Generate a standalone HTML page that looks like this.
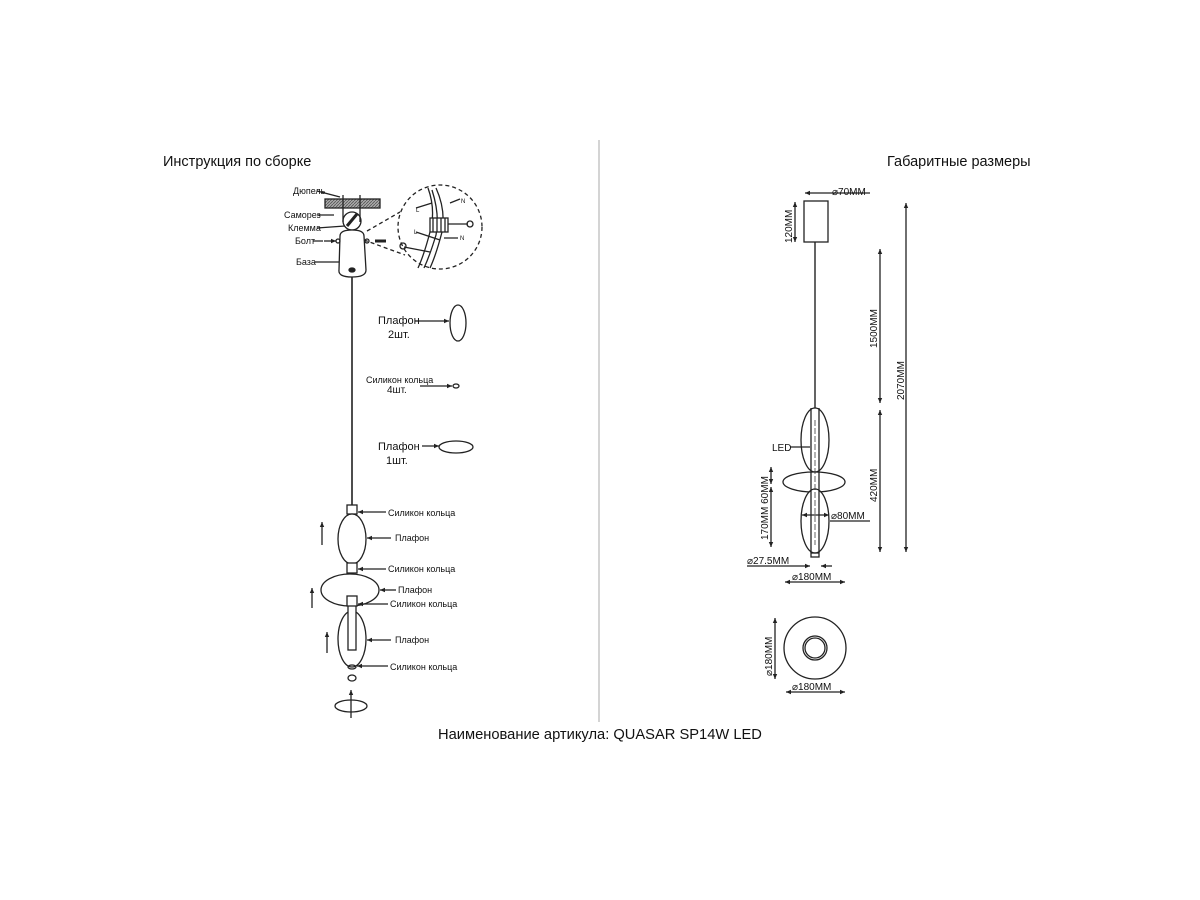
<!DOCTYPE html>
<html><head><meta charset="utf-8"><style>
html,body{margin:0;padding:0;background:#fff;}
svg{display:block;font-family:"Liberation Sans",sans-serif;}
</style></head><body>
<svg width="1200" height="900" viewBox="0 0 1200 900" xmlns="http://www.w3.org/2000/svg">
<defs>
<pattern id="h" width="3" height="3" patternUnits="userSpaceOnUse"><rect width="3" height="3" fill="#aaa"/><path d="M0 3L3 0" stroke="#555" stroke-width="0.8"/></pattern>
<marker id="a" markerWidth="6" markerHeight="6" refX="5" refY="3" orient="auto" markerUnits="userSpaceOnUse"><path d="M0,0.8 L5,3 L0,5.2 z" fill="#222"/></marker>
<marker id="as" markerWidth="6" markerHeight="6" refX="1" refY="3" orient="auto" markerUnits="userSpaceOnUse"><path d="M6,0.8 L1,3 L6,5.2 z" fill="#222"/></marker>
</defs>
<g fill="#111">
<text x="163" y="166" font-size="14.5">Инструкция по сборке</text>
<text x="887" y="166" font-size="14.5">Габаритные размеры</text>
<text x="438" y="739" font-size="14.7">Наименование артикула: QUASAR SP14W LED</text>
</g>
<line x1="599" y1="140" x2="599" y2="722" stroke="#aaa" stroke-width="1"/>

<g stroke="#222" fill="none" stroke-width="1.3">
<rect x="325" y="199" width="55" height="9" fill="url(#h)"/>
<line x1="343" y1="195" x2="343" y2="222"/><line x1="360" y1="195" x2="360" y2="222"/>
<ellipse cx="352" cy="221" rx="9" ry="9"/>
<path d="M347 226 L357 214" stroke-width="3"/>
<path d="M340 236 Q340 230 352 230 Q364 230 364 236 L366 270 Q366 277 352 277 Q338 277 339 270 Z" fill="#fff"/>
<ellipse cx="352" cy="270" rx="3" ry="2" fill="#222"/>
<circle cx="338" cy="241" r="2"/><circle cx="367" cy="241" r="2"/>
<line x1="324" y1="241" x2="336" y2="241" marker-end="url(#a)"/>
<line x1="375" y1="241" x2="386" y2="241" stroke-width="3"/>
<line x1="352" y1="277" x2="352" y2="506" stroke-width="1.6"/>
<circle cx="440" cy="227" r="42" stroke-dasharray="4,3"/>
<path d="M367 231 L400 212 M364 240 L405 255" stroke-dasharray="4,3"/>
<path d="M428 188 Q436 210 430 232 Q424 255 418 268 M436 188 Q446 210 442 232 Q436 255 430 268 M432 190 Q440 215 436 235 Q430 255 424 268"/>
<rect x="430" y="218" width="18" height="14" fill="#fff"/>
<path d="M433 218v14M437 218v14M441 218v14M445 218v14"/>
<path d="M416 208L432 203M450 203L460 199M448 224L468 224M416 232L440 240M444 238L458 238M404 247L430 252"/>
<circle cx="470" cy="224" r="3"/><circle cx="403" cy="246" r="3"/>
<ellipse cx="458" cy="323" rx="8" ry="18"/>
<line x1="415" y1="321" x2="449" y2="321" marker-end="url(#a)"/>
<ellipse cx="456" cy="386" rx="3" ry="2"/>
<line x1="420" y1="386" x2="452" y2="386" marker-end="url(#a)"/>
<ellipse cx="456" cy="447" rx="17" ry="6"/>
<line x1="422" y1="446" x2="439" y2="446" marker-end="url(#a)"/>
<rect x="347" y="505" width="10" height="9" fill="#fff"/>
<ellipse cx="352" cy="539" rx="14" ry="25" fill="#fff"/>
<rect x="347" y="563" width="10" height="10" fill="#fff"/>
<ellipse cx="350" cy="590" rx="29" ry="16" fill="#fff"/>
<ellipse cx="352" cy="639" rx="14" ry="28" fill="#fff"/>
<rect x="348" y="598" width="8" height="52" fill="#fff"/>
<rect x="347" y="596" width="10" height="10" fill="#fff"/>
<ellipse cx="352" cy="667" rx="4" ry="2"/>
<ellipse cx="352" cy="678" rx="4" ry="3"/>
<line x1="322" y1="545" x2="322" y2="522" marker-end="url(#a)"/>
<line x1="312" y1="608" x2="312" y2="588" marker-end="url(#a)"/>
<line x1="327" y1="653" x2="327" y2="632" marker-end="url(#a)"/>
<line x1="351" y1="718" x2="351" y2="690" marker-end="url(#a)"/>
<ellipse cx="351" cy="706" rx="16" ry="6"/>
<line x1="386" y1="512" x2="358" y2="512" marker-end="url(#a)"/>
<line x1="391" y1="538" x2="367" y2="538" marker-end="url(#a)"/>
<line x1="386" y1="569" x2="358" y2="569" marker-end="url(#a)"/>
<line x1="396" y1="590" x2="380" y2="590" marker-end="url(#a)"/>
<line x1="388" y1="604" x2="358" y2="604" marker-end="url(#a)"/>
<line x1="391" y1="640" x2="367" y2="640" marker-end="url(#a)"/>
<line x1="388" y1="666" x2="357" y2="666" marker-end="url(#a)"/>
<path d="M317 191 L340 197 M317 215 L334 215 M317 228 L345 226 M313 241 L323 241 M315 262 L339 262"/>
</g>
<g font-size="9" fill="#111">
<text x="293" y="194">Дюпель</text>
<text x="284" y="218">Саморез</text>
<text x="288" y="231">Клемма</text>
<text x="295" y="244">Болт</text>
<text x="296" y="265">База</text>
<text x="378" y="324" font-size="11">Плафон</text>
<text x="388" y="338" font-size="11">2шт.</text>
<text x="366" y="383">Силикон кольца</text>
<text x="387" y="393" font-size="10">4шт.</text>
<text x="378" y="450" font-size="11">Плафон</text>
<text x="386" y="464" font-size="11">1шт.</text>
<text x="388" y="516">Силикон кольца</text>
<text x="395" y="541">Плафон</text>
<text x="388" y="572">Силикон кольца</text>
<text x="398" y="593">Плафон</text>
<text x="390" y="607">Силикон кольца</text>
<text x="395" y="643">Плафон</text>
<text x="390" y="670">Силикон кольца</text>
<text x="416" y="212" font-size="6">L</text><text x="461" y="203" font-size="6">N</text>
<text x="414" y="234" font-size="6">L</text><text x="460" y="240" font-size="6">N</text>
</g>

<g stroke="#222" fill="none" stroke-width="1.3">
<rect x="804" y="201" width="24" height="41"/>
<line x1="815" y1="242" x2="815" y2="408" stroke-width="1.4"/>
<ellipse cx="815" cy="440" rx="14" ry="32"/>
<ellipse cx="814" cy="482" rx="31" ry="10" fill="#fff"/>
<ellipse cx="815" cy="521" rx="14" ry="31" fill="#fff" stroke="none"/>
<ellipse cx="815" cy="521" rx="14" ry="32"/>
<path d="M811 408 L811 553 M819 408 L819 553"/>
<rect x="811" y="553" width="8" height="4"/>
<line x1="815" y1="420" x2="815" y2="545" stroke-dasharray="6,2" stroke-width="0.7"/>
<line x1="790" y1="447" x2="810" y2="447"/>
<line x1="802" y1="515" x2="829" y2="515" marker-start="url(#as)" marker-end="url(#a)"/>
<line x1="830" y1="521" x2="870" y2="521"/>
<line x1="805" y1="193" x2="826" y2="193" marker-start="url(#as)"/>
<line x1="826" y1="193" x2="870" y2="193"/>
<line x1="795" y1="202" x2="795" y2="242" marker-start="url(#as)" marker-end="url(#a)"/>
<line x1="880" y1="249" x2="880" y2="403" marker-start="url(#as)" marker-end="url(#a)"/>
<line x1="880" y1="410" x2="880" y2="552" marker-start="url(#as)" marker-end="url(#a)"/>
<line x1="906" y1="203" x2="906" y2="552" marker-start="url(#as)" marker-end="url(#a)"/>
<line x1="771" y1="467" x2="771" y2="484" marker-start="url(#as)" marker-end="url(#a)"/>
<line x1="771" y1="487" x2="771" y2="547" marker-start="url(#as)" marker-end="url(#a)"/>
<line x1="747" y1="566" x2="810" y2="566" marker-end="url(#a)"/>
<line x1="832" y1="566" x2="821" y2="566" marker-end="url(#a)"/>
<line x1="785" y1="582" x2="845" y2="582" marker-start="url(#as)" marker-end="url(#a)"/>
<circle cx="815" cy="648" r="31"/>
<circle cx="815" cy="648" r="12"/><circle cx="815" cy="648" r="10"/>
<line x1="775" y1="618" x2="775" y2="679" marker-start="url(#as)" marker-end="url(#a)"/>
<line x1="786" y1="692" x2="845" y2="692" marker-start="url(#as)" marker-end="url(#a)"/>
</g>
<g font-size="10" fill="#111">
<text x="832" y="195">⌀70MM</text>
<text x="772" y="451">LED</text>
<text x="831" y="519">⌀80MM</text>
<text x="747" y="564">⌀27.5MM</text>
<text x="792" y="580">⌀180MM</text>
<text x="792" y="690">⌀180MM</text>
<text transform="translate(792 243) rotate(-90)">120MM</text>
<text transform="translate(877 348) rotate(-90)">1500MM</text>
<text transform="translate(877 502) rotate(-90)">420MM</text>
<text transform="translate(904 400) rotate(-90)">2070MM</text>
<text transform="translate(768 540) rotate(-90)">170MM 60MM</text>
<text transform="translate(772 676) rotate(-90)">⌀180MM</text>
</g>
</svg>
</body></html>
